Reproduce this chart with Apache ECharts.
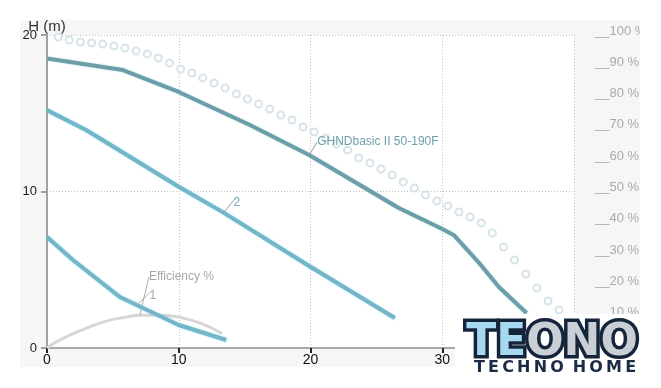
<!DOCTYPE html>
<html>
<head>
<meta charset="utf-8">
<script src="https://cdn.jsdelivr.net/npm/echarts@6/dist/echarts.min.js"></script>
<style>
html,body{margin:0;padding:0;background:#fff;}
#c{width:661px;height:388px;}
</style>
</head>
<body>
<div id="c"></div>
<script>
// ---- data ----
var xTicks = [0, 10, 20, 30, 40];
var hTicks = [0, 10, 20];
// pump curve GHNDbasic II 50-190F : [Q, H]
var mainX = [0, 5.76, 10, 15.4, 19.9, 26.7, 29.85, 30.9, 32.8, 34.3, 36.4];
var mainY = [18.5, 17.76, 16.36, 14.25, 12.33, 8.95, 7.67, 7.2, 5.43, 3.9, 2.24];
var mainLabelIdx = 4;
// curve 2
var c2X = [0, 3.03, 10, 13.4, 19.9, 26.4];
var c2Y = [15.2, 13.9, 10.3, 8.65, 5.24, 1.92];
var c2LabelIdx = 3;
// curve 1
var c1X = [0, 1.97, 5.53, 6.8, 10, 13.6];
var c1Y = [7.1, 5.62, 3.26, 2.75, 1.47, 0.51];
var c1LabelIdx = 3;
// efficiency % (right axis)
var effX = [0, 0.98, 3.03, 4.77, 6.06, 7.05, 8.5, 10, 11.6, 13.3];
var effY = [0, 2.6, 6.4, 8.9, 9.9, 10.5, 10.5, 9.9, 8.0, 4.6];
var effLabelIdx = 5;
// dotted (circle) curve
var dotX = [0.85,1.69,2.54,3.38,4.23,5.07,5.92,6.76,7.61,8.45,9.3,10.14,10.99,11.83,12.68,13.52,14.37,15.21,16.06,16.9,17.75,18.59,19.44,20.28,21.13,21.97,22.82,23.66,24.51,25.35,26.2,27.04,27.89,28.73,29.58,30.42,31.27,32.11,32.96,33.8,34.65,35.49,36.34,37.18,38.03,38.87];
var dotY = [19.87,19.68,19.55,19.49,19.42,19.30,19.17,18.98,18.79,18.53,18.21,17.83,17.57,17.25,16.93,16.61,16.23,15.91,15.59,15.27,14.89,14.57,14.12,13.80,13.42,13.04,12.65,12.14,11.82,11.44,11.05,10.61,10.22,9.78,9.39,9.07,8.69,8.37,7.99,7.35,6.45,5.62,4.73,3.83,3.00,2.43];
var pctTicks = [0,10,20,30,40,50,60,70,80,90,100];

var FONT = 'Liberation Sans, Arial, sans-serif';

function zip(xs, ys, labelIdx, labelOpt) {
  return xs.map(function (x, i) {
    var item = { value: [x, ys[i]] };
    if (i === labelIdx) item.label = labelOpt;
    return item;
  });
}

var chart = echarts.init(document.getElementById('c'), null, { renderer: 'canvas' });

var option = {
  backgroundColor: '#ffffff',
  animation: false,
  grid: { left: 47, top: 35, width: 527, height: 313, show: true, backgroundColor: '#ffffff', borderWidth: 0 },
  graphic: [
    { type: 'rect', z: -10, shape: { x: 20, y: 20, width: 620, height: 347 }, style: { fill: '#f6f6f6' }, silent: true },
    { type: 'rect', z: 100, shape: { x: 455, y: 314, width: 206, height: 74 }, style: { fill: '#ffffff' }, silent: true },
    { type: 'rect', z: 100, shape: { x: 640, y: 0, width: 21, height: 388 }, style: { fill: '#ffffff' }, silent: true },
    { type: 'text', z: 101, x: 552, y: 344, style: { text: 'TEONO', font: 'bold 44px "DejaVu Sans"', align: 'center', verticalAlign: 'middle', fill: '#13243b', stroke: '#13243b', lineWidth: 7 }, silent: true },
    { type: 'text', z: 102, x: 552, y: 344, style: { text: '{a|TE}{b|ONO}', font: 'bold 44px "DejaVu Sans"', align: 'center', verticalAlign: 'middle',
        rich: { a: { font: 'bold 44px "DejaVu Sans"', fill: '#a6d9ef' }, b: { font: 'bold 44px "DejaVu Sans"', fill: '#c9cfd4' } } }, silent: true },
    { type: 'text', z: 101, x: 555, y: 368, style: { text: 'T\u2009E\u2009C\u2009H\u2009N\u2009O\u2009 H\u2009O\u2009M\u2009E', font: 'bold 16px "DejaVu Sans"', align: 'center', verticalAlign: 'middle', fill: '#1b2a45' }, silent: true }
  ],
  xAxis: {
    type: 'value', min: 0, max: 40, interval: 10,
    axisLine: { show: true, lineStyle: { color: '#a8a8a8', width: 2 } },
    axisTick: { show: true, length: 5, lineStyle: { color: '#222', width: 2 } },
    axisLabel: { color: '#111', fontSize: 14, fontFamily: FONT, margin: 5,
      formatter: function (v) { return xTicks.indexOf(v) >= 0 ? String(v) : ''; } },
    splitLine: { show: true, lineStyle: { color: '#c4c4c4', width: 1, type: [1, 2] } }
  },
  yAxis: [
    {
      type: 'value', min: 0, max: 20, interval: 10, position: 'left',
      name: 'H (m)', nameLocation: 'end', nameGap: 1, nameMoveOverlap: false,
      nameTextStyle: { color: '#333', fontSize: 15, fontFamily: FONT, align: 'center', verticalAlign: 'bottom' },
      axisLine: { show: true, lineStyle: { color: '#a0a0a0', width: 2 } },
      axisTick: { show: true, length: 6, lineStyle: { color: '#a0a0a0', width: 2 } },
      axisLabel: { color: '#222', fontSize: 13, fontFamily: FONT, margin: 10,
        formatter: function (v) { return hTicks.indexOf(v) >= 0 ? String(v) : ''; } },
      splitLine: { show: true, lineStyle: { color: '#c4c4c4', width: 1, type: [1, 2] } }
    },
    {
      type: 'value', min: 0, max: 100, interval: 10, position: 'right',
      axisLine: { show: false }, axisTick: { show: false }, splitLine: { show: false },
      axisLabel: { color: '#aaaaaa', fontSize: 13, fontFamily: FONT, margin: 21, verticalAlign: 'bottom', lineHeight: 8,
        formatter: function (v) { return pctTicks.indexOf(v) >= 0 ? '__' + v + ' %' : ''; } }
    }
  ],
  series: [
    {
      name: 'dots', type: 'line', data: zip(dotX, dotY, -1),
      symbol: 'emptyCircle', symbolSize: 7, showAllSymbol: true, silent: true,
      itemStyle: { color: '#d6e4e9', borderWidth: 2 },
      lineStyle: { width: 0, opacity: 0 }, z: 1
    },
    {
      name: 'Efficiency %', type: 'line', yAxisIndex: 1, smooth: true, silent: true,
      data: zip(effX, effY, effLabelIdx, { show: true, formatter: 'Efficiency %', position: 'right', color: '#a8a8a8', fontSize: 12, fontFamily: FONT }),
      symbol: 'circle', symbolSize: 0, showAllSymbol: true,
      itemStyle: { color: '#d6d6d6' },
      lineStyle: { color: '#d6d6d6', width: 3 },
      labelLayout: function () { return { dx: 4, dy: -38 }; },
      labelLine: { show: true, lineStyle: { color: '#b0b0b0', width: 1 } },
      z: 2
    },
    {
      name: 'GHNDbasic II 50-190F', type: 'line', silent: true,
      data: zip(mainX, mainY, mainLabelIdx, { show: true, formatter: 'GHNDbasic II 50-190F', position: 'right', color: '#6f9eab', fontSize: 12, fontFamily: FONT }),
      symbol: 'circle', symbolSize: 0, showAllSymbol: true,
      itemStyle: { color: '#6c9ea9' },
      lineStyle: { color: '#6c9ea9', width: 4, shadowColor: 'rgba(150,200,215,0.6)', shadowBlur: 2 },
      labelLayout: function () { return { dx: 3, dy: -13 }; },
      labelLine: { show: true, lineStyle: { color: '#999', width: 1 } },
      z: 3
    },
    {
      name: '2', type: 'line', silent: true,
      data: zip(c2X, c2Y, c2LabelIdx, { show: true, formatter: '2', position: 'right', color: '#6aaec0', fontSize: 12, fontFamily: FONT }),
      symbol: 'circle', symbolSize: 0, showAllSymbol: true,
      itemStyle: { color: '#74b6c7' },
      lineStyle: { color: '#74b6c7', width: 4, shadowColor: 'rgba(120,215,240,0.8)', shadowBlur: 2 },
      labelLayout: function () { return { dx: 5, dy: -10 }; },
      labelLine: { show: true, lineStyle: { color: '#999', width: 1 } },
      z: 3
    },
    {
      name: '1', type: 'line', silent: true,
      data: zip(c1X, c1Y, c1LabelIdx, { show: true, formatter: '1', position: 'right', color: '#a8a8a8', fontSize: 12, fontFamily: FONT }),
      symbol: 'circle', symbolSize: 0, showAllSymbol: true,
      itemStyle: { color: '#74b6c7' },
      lineStyle: { color: '#74b6c7', width: 4, shadowColor: 'rgba(120,215,240,0.8)', shadowBlur: 2 },
      labelLayout: function () { return { dx: 8, dy: -9 }; },
      labelLine: { show: true, lineStyle: { color: '#b0b0b0', width: 1 } },
      z: 3
    }
  ]
};
chart.setOption(option);
</script>
</body>
</html>
